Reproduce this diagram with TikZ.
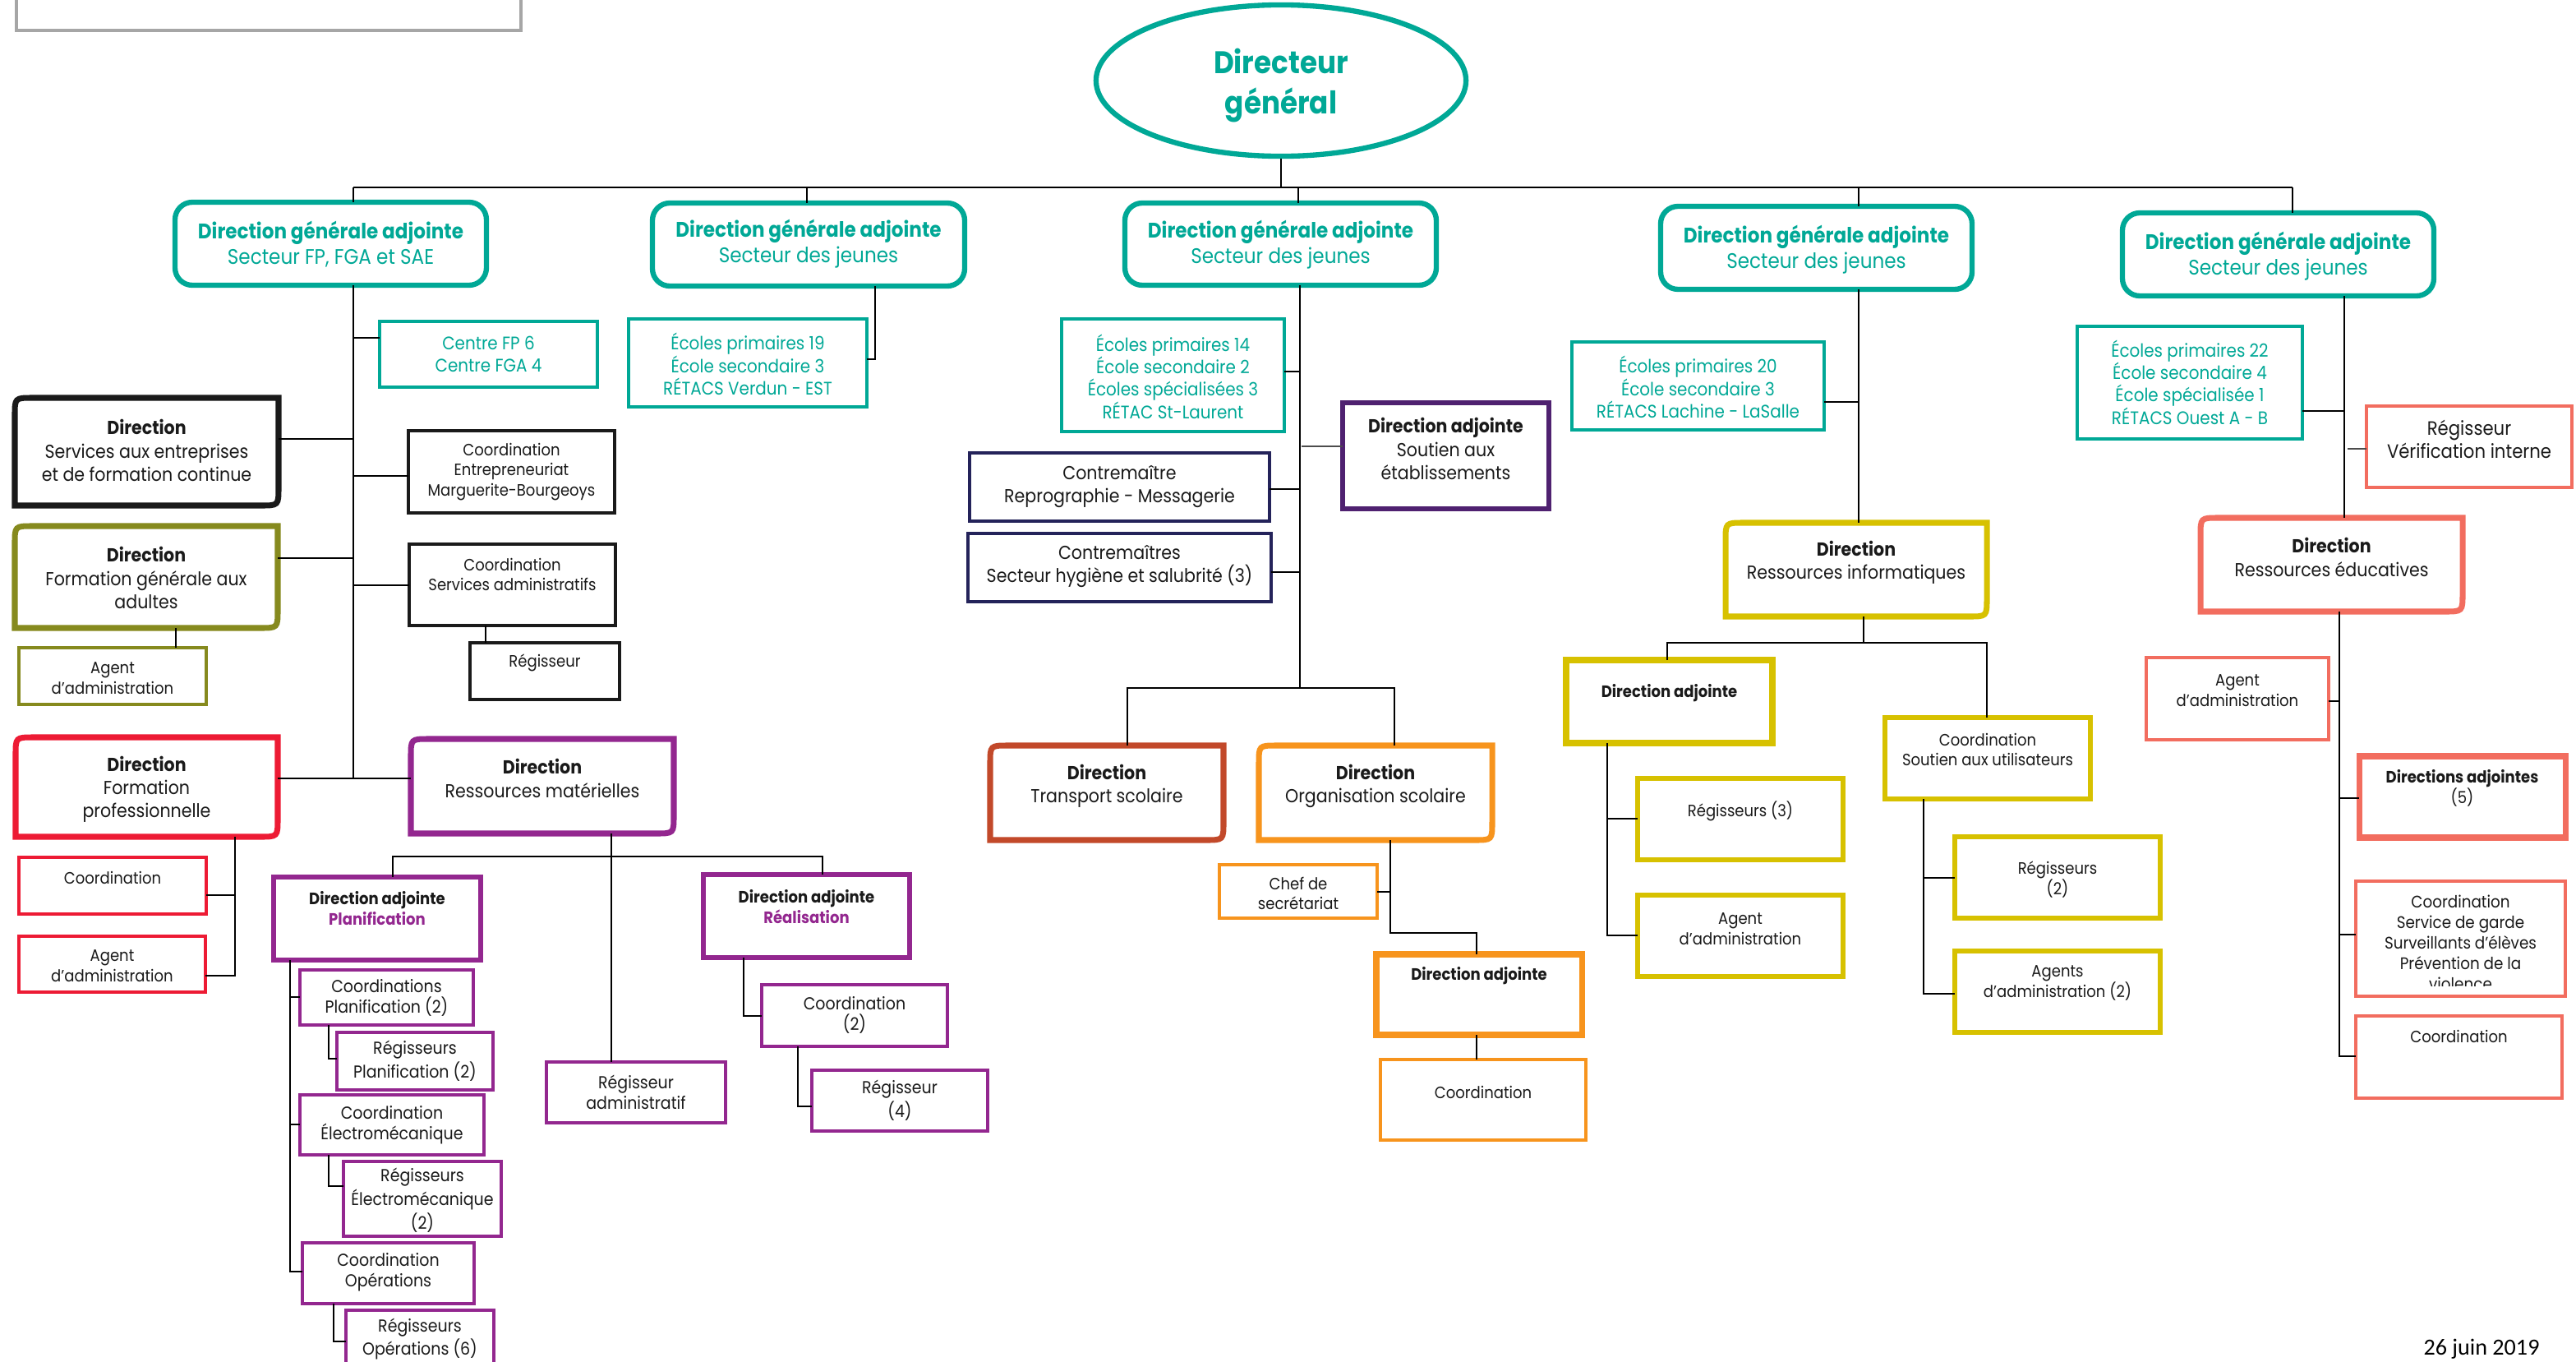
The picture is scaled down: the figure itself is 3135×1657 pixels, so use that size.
\documentclass[tikz,border=0pt]{standalone}
\usepackage{fontspec}
\setmainfont{Poppins}[FakeStretch=0.9]
\newfontfamily\datefont{Carlito}
\usetikzlibrary{shapes.geometric}
\definecolor{cteal}{HTML}{00A896}
\definecolor{cblk}{HTML}{1A1A1A}
\definecolor{colive}{HTML}{868A1E}
\definecolor{cred}{HTML}{ED1B34}
\definecolor{cpurple}{HTML}{93278F}
\definecolor{cnavy}{HTML}{24235A}
\definecolor{cdpurple}{HTML}{4F2170}
\definecolor{cbrown}{HTML}{C2492A}
\definecolor{corange}{HTML}{F7941D}
\definecolor{cyellow}{HTML}{D7C100}
\definecolor{csalmon}{HTML}{F26D5F}
\definecolor{cgray}{HTML}{A6A6A6}
\newcommand\fz[2]{\fontsize{#1}{#2}\selectfont}
\def\Rr{22}
\tikzset{
  box/.style={inner sep=0pt, outer sep=0pt},
  tx/.style={align=center, inner sep=0pt, text=cblk},
  conn/.style={draw=black, line width=0.8pt},
  thinconn/.style={draw=black!70, line width=0.5pt},
  dline/.style={line width=2pt},
  dgabox/.style={draw=cteal, line width=1.8pt, rounded corners=6pt},
  tealbox/.style={draw=cteal, line width=1.3pt},
  blkbox/.style={draw=cblk, line width=1.3pt},
  olvbox/.style={draw=colive, line width=1.3pt},
  redbox/.style={draw=cred, line width=1.3pt},
  purbox/.style={draw=cpurple, line width=1.3pt},
  purda/.style={draw=cpurple, line width=1.9pt},
  navbox/.style={draw=cnavy, line width=1.3pt},
  dpurda/.style={draw=cdpurple, line width=1.9pt},
  orgbox/.style={draw=corange, line width=1.4pt},
  orgda/.style={draw=corange, line width=2pt},
  yelbox/.style={draw=cyellow, line width=1.6pt},
  yelda/.style={draw=cyellow, line width=2.2pt},
  salbox/.style={draw=csalmon, line width=1.1pt},
  salda/.style={draw=csalmon, line width=2pt},
  tDGA/.style={font=\fz{7.3}{8.8}, text=cteal},
  tD/.style={font=\fz{6.5}{8}},
  tSch/.style={font=\fz{6.3}{7.8}, text=cteal},
  tS/.style={font=\fz{5.7}{7}},
  tP/.style={font=\fz{6}{7.1}},
  tSal/.style={font=\fz{6.7}{8}},
}
% box: #1 box style, #2 text style, #3 name, #4 x1, #5 y1, #6 x2, #7 y2, #8 text centre y, #9 text
\newcommand\mybx[9]{%
  \node[box, #1, minimum width={(#6-#4)*0.01cm}, minimum height={(#7-#5)*0.01cm}] (#3) at ({(#4+#6)/2},{(#5+#7)/2}) {};
  \node[tx, #2] (#3t) at ({(#4+#6)/2},#8) {#9};
}
% direction box with rounded top-left and bottom-right corners
\newcommand\mydbx[9]{%
  \node[box, minimum width={(#6-#4)*0.01cm}, minimum height={(#7-#5)*0.01cm}] (#3) at ({(#4+#6)/2},{(#5+#7)/2}) {};
  \draw[dline, #1] (#4,{#5+\Rr}) .. controls (#4,#5) .. ({#4+\Rr},#5) -- (#6,#5) -- (#6,{#7-\Rr}) .. controls (#6,#7) .. ({#6-\Rr},#7) -- (#4,#7) -- cycle;
  \node[tx, #2] (#3t) at ({(#4+#6)/2},#8) {#9};
}
\begin{document}
\begin{tikzpicture}[x=0.01cm, y=-0.01cm]
\useasboundingbox (0,0) rectangle (3135,1657);
\fill[white] (0,0) rectangle (3135,1657);

% legend frame (top left)
\node[box, draw=cgray, line width=1pt, minimum width=6.14cm, minimum height=0.6cm] (legend) at (327,7) {};

% Directeur general
\node[ellipse, draw=cteal, line width=1.8pt, minimum width=4.5cm, minimum height=1.84cm, inner sep=0pt,
      align=center, text=cteal, font=\fz{10.8}{14.2}] (dg) at (1559,98) {};
\node[tx, text=cteal, font=\fz{10.8}{14.2}] (dgt) at (1559,104) {\textbf{Directeur}\\\textbf{général}};

% DGA boxes
\mybx{dgabox}{tDGA}{dga1}{213}{246}{592}{347}{297}{\textbf{Direction générale adjointe}\\Secteur FP, FGA et SAE}
\mybx{dgabox}{tDGA}{dga2}{794}{247}{1174}{348}{297}{\textbf{Direction générale adjointe}\\Secteur des jeunes}
\mybx{dgabox}{tDGA}{dga3}{1369}{247}{1748}{347}{298}{\textbf{Direction générale adjointe}\\Secteur des jeunes}
\mybx{dgabox}{tDGA}{dga4}{2021}{251}{2400}{352}{304}{\textbf{Direction générale adjointe}\\Secteur des jeunes}
\mybx{dgabox}{tDGA}{dga5}{2583}{259}{2962}{360}{312}{\textbf{Direction générale adjointe}\\Secteur des jeunes}

% school boxes
\mybx{tealbox}{tSch}{cfp}{462}{391}{727}{471}{431}{Centre FP 6\\Centre FGA 4}
\mybx{tealbox}{tSch}{sch1}{765}{388}{1055}{495}{443}{Écoles primaires 19\\École secondaire 3\\RÉTACS Verdun - EST}
\mybx{tealbox}{tSch}{sch2}{1292}{388}{1563}{525}{458}{Écoles primaires 14\\École secondaire 2\\Écoles spécialisées 3\\RÉTAC St-Laurent}
\mybx{tealbox}{tSch}{sch3}{1913}{416}{2220}{523}{471}{Écoles primaires 20\\École secondaire 3\\RÉTACS Lachine - LaSalle}
\mybx{tealbox}{tSch}{sch4}{2528}{397}{2802}{534}{465}{Écoles primaires 22\\École secondaire 4\\École spécialisée 1\\RÉTACS Ouest A - B}

% Directions
\mydbx{draw=cblk}{tD}{dse}{18}{484}{339}{615}{548}{\textbf{Direction}\\Services aux entreprises\\et de formation continue}
\mydbx{draw=colive}{tD}{dfga}{18}{640}{338}{764}{703}{\textbf{Direction}\\Formation générale aux\\adultes}
\mydbx{draw=cred}{tD}{dfp}{19}{897}{338}{1018}{960}{\textbf{Direction}\\Formation\\professionnelle}
\mydbx{draw=cpurple}{tD}{drm}{500}{899}{820}{1014}{947}{\textbf{Direction}\\Ressources matérielles}
\mydbx{draw=cbrown}{tD}{dts}{1205}{907}{1489}{1022}{956}{\textbf{Direction}\\Transport scolaire}
\mydbx{draw=corange}{tD}{dos}{1532}{907}{1816}{1022}{956}{\textbf{Direction}\\Organisation scolaire}
\mydbx{draw=cyellow}{tD}{dri}{2100}{636}{2418}{750}{684}{\textbf{Direction}\\Ressources informatiques}
\mydbx{draw=csalmon}{tD}{dre}{2678}{630}{2997}{744}{678}{\textbf{Direction}\\Ressources éducatives}

% DGA1 sub-boxes
\mybx{blkbox}{tS}{ce}{497}{524}{748}{624}{574}{Coordination\\Entrepreneuriat\\Marguerite-Bourgeoys}
\mybx{blkbox}{tS}{csa}{498}{662}{749}{761}{699}{Coordination\\Services administratifs}
\mybx{blkbox}{tS}{reg1}{572}{782}{754}{851}{806}{Régisseur}
\mybx{olvbox}{tS}{aa1}{23}{788}{251}{857}{825}{Agent\\d’administration}
\mybx{redbox}{tS}{coordfp}{23}{1043}{251}{1112}{1068}{Coordination}
\mybx{redbox}{tS}{aafp}{23}{1139}{250}{1207}{1175}{Agent\\d’administration}

% Ressources materielles
\mybx{purda}{tS}{dap}{333}{1067}{585}{1168}{1105}{\textbf{Direction adjointe}\\\textcolor{cpurple}{\textbf{Planification}}}
\mybx{purda}{tS}{dar}{856}{1064}{1107}{1165}{1103}{\textbf{Direction adjointe}\\\textcolor{cpurple}{\textbf{Réalisation}}}
\mybx{purbox}{tP}{rega}{665}{1292}{883}{1366}{1329}{Régisseur\\administratif}
\mybx{purbox}{tP}{cp}{365}{1180}{576}{1247}{1214}{Coordinations\\Planification (2)}
\mybx{purbox}{tP}{rp}{410}{1256}{600}{1326}{1291}{Régisseurs\\Planification (2)}
\mybx{purbox}{tP}{cel}{365}{1332}{589}{1405}{1369}{Coordination\\Électromécanique}
\mybx{purbox}{tP}{rel}{418}{1413}{610}{1504}{1460}{Régisseurs\\Électromécanique\\(2)}
\mybx{purbox}{tP}{cop}{368}{1512}{577}{1586}{1548}{Coordination\\Opérations}
\mybx{purbox}{tP}{rop}{421}{1594}{601}{1665}{1629}{Régisseurs\\Opérations (6)}
\mybx{purbox}{tP}{cr}{927}{1198}{1153}{1273}{1235}{Coordination\\(2)}
\mybx{purbox}{tP}{rr}{988}{1302}{1202}{1376}{1339}{Régisseur\\(4)}

% DGA3 sub-boxes
\mybx{dpurda}{tD}{das}{1634}{490}{1885}{619}{546}{\textbf{Direction adjointe}\\Soutien aux\\établissements}
\mybx{navbox}{tD}{crm}{1180}{551}{1545}{634}{592}{Contremaître\\Reprographie - Messagerie}
\mybx{navbox}{tD}{chs}{1178}{649}{1547}{732}{689}{Contremaîtres\\Secteur hygiène et salubrité (3)}
\mybx{orgbox}{tS}{csec}{1484}{1052}{1676}{1117}{1087}{Chef de\\secrétariat}
\mybx{orgda}{tS}{dao}{1675}{1161}{1925}{1259}{1187}{\textbf{Direction adjointe}}
\mybx{orgbox}{tS}{coo}{1680}{1289}{1930}{1387}{1329}{Coordination}

% DGA4 sub-boxes
\mybx{yelda}{tS}{dai}{1906}{803}{2157}{904}{843}{\textbf{Direction adjointe}}
\mybx{yelbox}{tS}{rg3}{1993}{947}{2243}{1046}{987}{Régisseurs (3)}
\mybx{yelbox}{tS}{aai}{1993}{1089}{2243}{1188}{1130}{Agent\\d’administration}
\mybx{yelbox}{tS}{csu}{2294}{873}{2544}{972}{912}{Coordination\\Soutien aux utilisateurs}
\mybx{yelbox}{tS}{rg2}{2379}{1018}{2629}{1117}{1070}{Régisseurs\\(2)}
\mybx{yelbox}{tS}{aa2}{2379}{1157}{2629}{1256}{1196}{Agents\\d’administration (2)}

% DGA5 sub-boxes
\mybx{salbox}{tSal}{rvi}{2880}{494}{3130}{593}{534}{Régisseur\\Vérification interne}
\mybx{salbox}{tS}{aare}{2612}{800}{2834}{900}{840}{Agent\\d’administration}
\mybx{salda}{tS}{dadj5}{2871}{920}{3122}{1019}{959}{\textbf{Directions adjointes}\\(5)}
\node[box, salbox, minimum width=2.55cm, minimum height=1.4cm] (csg) at (2994.5,1142) {};
\begin{scope}
  \clip (2867,1072) rectangle (3122,1199);
  \node[tx, tS, anchor=north, font=\fz{5.8}{7.1}] (csgt) at (2994.5,1088) {Coordination\\Service de garde\\Surveillants d’élèves\\Prévention de la\\violence};
\end{scope}
\mybx{salbox}{tS}{cre}{2867}{1236}{3118}{1336}{1261}{Coordination}

% date
\node[inner sep=0pt, anchor=south, font=\datefont\fz{8}{9.6}, text=black] (date) at (3020,1654) {26 juin 2019};

% ---------------- connectors ----------------
\coordinate (b0) at (430,228);
\coordinate (b2) at (982,228);
\coordinate (b3) at (1580,228);
\coordinate (b4) at (2262,228);
\coordinate (b5) at (2790,228);
\draw[conn] (dg.south) -- (dg.south |- b0);
\draw[conn] (b0) -- (b5);
\draw[conn] (b0) -- (b0 |- dga1.north);
\draw[conn] (b2) -- (b2 |- dga2.north);
\draw[conn] (b3) -- (b3 |- dga3.north);
\draw[conn] (b4) -- (b4 |- dga4.north);
\draw[conn] (b5) -- (b5 |- dga5.north);

% DGA1
\coordinate (t1e) at (430,947);
\draw[conn] (b0 |- dga1.south) -- (t1e);
\draw[conn] (430,411) -- (430,411 -| cfp.west);
\draw[conn] (430,534) -- (430,534 -| dse.east);
\draw[conn] (430,579) -- (430,579 -| ce.west);
\draw[conn] (430,679) -- (430,679 -| dfga.east);
\draw[conn] (430,712) -- (430,712 -| csa.west);
\draw[conn] (t1e -| dfp.east) -- (t1e -| drm.west);
\draw[conn] (214,0 |- dfga.south) -- (214,0 |- aa1.north);
\draw[conn] (591,0 |- csa.south) -- (591,0 |- reg1.north);
\draw[conn] (286,0 |- dfp.south) -- (286,1187) -- (286,1187 -| aafp.east);
\draw[conn] (286,1089) -- (286,1089 -| coordfp.east);
\draw[conn] (744,0 |- drm.south) -- (744,0 |- rega.north);
\draw[conn] (478,0 |- dap.north) -- (478,1042) -- (1001,1042) -- (1001,0 |- dar.north);
\draw[conn] (353,0 |- dap.south) -- (353,1547) -- (353,1547 -| cop.west);
\draw[conn] (353,1213) -- (353,1213 -| cp.west);
\draw[conn] (353,1368) -- (353,1368 -| cel.west);
\draw[conn] (400,0 |- cp.south) -- (400,1288) -- (400,1288 -| rp.west);
\draw[conn] (400,0 |- cel.south) -- (400,1443) -- (400,1443 -| rel.west);
\draw[conn] (406,0 |- cop.south) -- (406,1632) -- (406,1632 -| rop.west);
\draw[conn] (905,0 |- dar.south) -- (905,1236) -- (905,1236 -| cr.west);
\draw[conn] (971,0 |- cr.south) -- (971,1346) -- (971,1346 -| rr.west);

% DGA2
\draw[conn] (1065,0 |- dga2.south) -- (1065,437) -- (1065,437 -| sch1.east);

% DGA3
\draw[conn] (1582,0 |- dga3.south) -- (1582,837);
\draw[conn] (1582,452) -- (1582,452 -| sch2.east);
\draw[thinconn] (1584,543) -- (1584,543 -| das.west);
\draw[conn] (1582,595) -- (1582,595 -| crm.east);
\draw[conn] (1582,696) -- (1582,696 -| chs.east);
\draw[conn] (1372,0 |- dts.north) -- (1372,837) -- (1697,837) -- (1697,0 |- dos.north);
\draw[conn] (1692,0 |- dos.south) -- (1692,1135) -- (1797,1135) -- (1797,0 |- dao.north);
\draw[conn] (1692,1085) -- (1692,1085 -| csec.east);
\draw[conn] (1797,0 |- dao.south) -- (1797,0 |- coo.north);

% DGA4
\draw[conn] (b4 |- dga4.south) -- (b4 |- dri.north);
\draw[conn] (2262,489) -- (2262,489 -| sch3.east);
\draw[conn] (2268,0 |- dri.south) -- (2268,782);
\draw[conn] (2029,0 |- dai.north) -- (2029,782) -- (2418,782) -- (2418,0 |- csu.north);
\draw[conn] (1956,0 |- dai.south) -- (1956,1138) -- (1956,1138 -| aai.west);
\draw[conn] (1956,996) -- (1956,996 -| rg3.west);
\draw[conn] (2341,0 |- csu.south) -- (2341,1209) -- (2341,1209 -| aa2.west);
\draw[conn] (2341,1068) -- (2341,1068 -| rg2.west);

% DGA5
\draw[conn] (2853,0 |- dga5.south) -- (2853,0 |- dre.north);
\draw[conn] (2853,500) -- (2853,500 -| sch4.east);
\draw[thinconn] (2857,546) -- (2857,546 -| rvi.west);
\draw[conn] (2847,0 |- dre.south) -- (2847,1285) -- (2847,1285 -| cre.west);
\draw[conn] (2847,853) -- (2847,853 -| aare.east);
\draw[conn] (2847,971) -- (2847,971 -| dadj5.west);
\draw[conn] (2847,1137) -- (2847,1137 -| csg.west);
\end{tikzpicture}
\end{document}
